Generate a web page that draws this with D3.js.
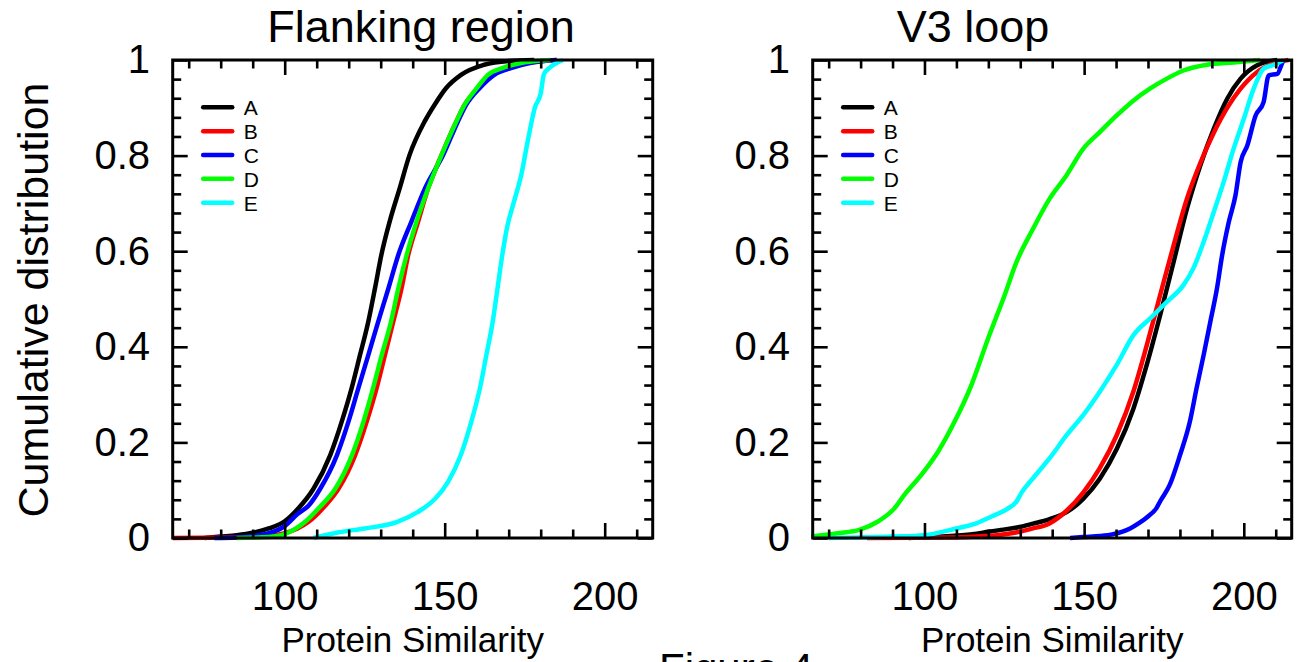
<!DOCTYPE html>
<html><head><meta charset="utf-8">
<script src="https://cdn.jsdelivr.net/npm/d3@7"></script>
<style>
body{margin:0;background:#fff}
svg{display:block}
text{font-family:"Liberation Sans",Arial,Helvetica,sans-serif;fill:#000}
</style>
</head><body>
<svg id="c" width="1301" height="662"></svg>
<script>
// ---------- data ----------
const seriesNames = ["A","B","C","D","E"];
const seriesColors = ["#000000","#ff0000","#0000ff","#00ff00","#00ffff"];
const panelTitles = ["Flanking region","V3 loop"];
const xLabel = "Protein Similarity";
const yLabel = "Cumulative distribution";
const figureLabel = "Figure 4";
const xDomain = [65, 215];
const xMajorTicks = [100,150,200];
const xMinorTicks = [70,80,90,110,120,130,140,160,170,180,190,210];
const yMajorTicks = [0,0.2,0.4,0.6,0.8,1];
const yTickLabels = ["0","0.2","0.4","0.6","0.8","1"];
const yMinorTicks = [0.04,0.08,0.12,0.16,0.24,0.28,0.32,0.36,0.44,0.48,0.52,0.56,0.64,0.68,0.72,0.76,0.84,0.88,0.92,0.96];

// Flanking region (left panel): [similarity, cumulative]
const flankA = [[75,0],[80,0.003],[85,0.006],[90,0.011],[95,0.02],[100,0.035],[104,0.06],[109,0.103],[114.2,0.173],[117.8,0.243],[120.9,0.313],[123.5,0.382],[126.1,0.452],[128.2,0.522],[130.2,0.592],[132.8,0.662],[135.9,0.731],[139,0.801],[143.7,0.871],[146.8,0.906],[150.4,0.941],[155.1,0.969],[162.3,0.99],[170,0.998],[178,1]];
const flankB = [[65,0],[85,0.001],[95,0.004],[100,0.01],[104,0.02],[107.5,0.034],[112.7,0.068],[116.8,0.103],[122,0.173],[125.6,0.243],[128.7,0.313],[131.3,0.382],[133.9,0.452],[136.5,0.522],[138.6,0.592],[141.7,0.662],[144.8,0.731],[149,0.801],[153.6,0.871],[156.2,0.906],[160.4,0.941],[164.5,0.969],[169.7,0.983],[176,0.994],[185,1]];
const flankC = [[78,0],[85,0.001],[90,0.004],[95,0.01],[100,0.025],[104,0.05],[107.5,0.068],[111.1,0.103],[116.3,0.173],[119.9,0.243],[123,0.313],[126.1,0.382],[129.2,0.452],[132.4,0.522],[135.5,0.592],[139.6,0.662],[143.8,0.731],[149.5,0.801],[154.1,0.871],[156.7,0.906],[160.9,0.941],[165.5,0.969],[170.7,0.983],[177,0.994],[185,1]];
const flankD = [[85,0],[95,0.002],[100,0.008],[103,0.018],[106.4,0.034],[111,0.065],[115.8,0.103],[121,0.173],[124.6,0.243],[127.6,0.313],[130.3,0.382],[133.2,0.452],[135.5,0.522],[138.1,0.592],[141.2,0.662],[144.8,0.731],[149,0.801],[153.6,0.871],[156.2,0.906],[160,0.941],[163.5,0.969],[168,0.983],[175,0.995],[183,1]];
const flankE = [[109,0],[117,0.012],[125,0.02],[135,0.033],[141.5,0.054],[147,0.082],[151,0.117],[155,0.173],[158.3,0.243],[161,0.313],[163,0.382],[165,0.452],[166.5,0.522],[168,0.592],[169.5,0.65],[171.5,0.7],[174,0.762],[176,0.832],[178.2,0.901],[180,0.93],[181,0.97],[183,0.985],[184.5,0.992],[187,1]];

// V3 loop (right panel)
const loopA = [[95,0],[105,0.003],[115,0.008],[120,0.013],[124,0.017],[129,0.022],[134,0.03],[139,0.039],[144.5,0.054],[149.7,0.082],[154.9,0.124],[160.2,0.186],[165.4,0.27],[169.6,0.362],[173.8,0.466],[178,0.577],[182.2,0.689],[186.4,0.78],[190.6,0.856],[194.8,0.919],[199,0.961],[204.2,0.989],[210.5,1]];
const loopB = [[82,0],[110,0.001],[119,0.004],[124,0.007],[129,0.012],[134,0.02],[139,0.03],[144.5,0.057],[149.7,0.095],[154.9,0.146],[160.2,0.215],[165.4,0.306],[169.6,0.403],[173.8,0.508],[178,0.612],[182.2,0.71],[186.4,0.785],[190.6,0.848],[194.8,0.9],[199,0.94],[204.2,0.975],[210.5,0.995],[214,1]];
const loopC = [[145.6,0],[149.7,0.002],[155,0.004],[159.1,0.008],[164.4,0.02],[167.4,0.032],[170,0.045],[172.6,0.062],[174,0.079],[176.8,0.111],[180,0.173],[183.1,0.243],[185.2,0.313],[187.4,0.382],[189.5,0.452],[191.6,0.522],[193.2,0.591],[195.3,0.661],[197.4,0.717],[199,0.786],[201.1,0.821],[203.7,0.884],[206.2,0.912],[207.8,0.968],[210.5,0.971],[212.1,0.995],[212.5,1]];
const loopD = [[64.5,0.003],[72.8,0.01],[79.6,0.017],[85.3,0.034],[90.6,0.062],[93.7,0.09],[99,0.132],[104.2,0.18],[109.4,0.243],[114.7,0.32],[119.9,0.417],[125.1,0.508],[128.8,0.577],[134,0.647],[139.2,0.71],[144.5,0.759],[149.7,0.814],[154.9,0.849],[160.2,0.884],[165.4,0.915],[170.6,0.94],[175.9,0.961],[181.1,0.978],[188.4,0.99],[196.8,0.995],[205,1]];
const loopE = [[70,0],[90,0.003],[100,0.006],[110,0.02],[116,0.03],[121,0.045],[126.2,0.062],[128.8,0.076],[130.4,0.095],[134,0.125],[139.2,0.167],[144.5,0.215],[149.7,0.257],[154.9,0.306],[160.2,0.362],[165.4,0.424],[170.6,0.459],[175.9,0.494],[181.1,0.529],[184.2,0.564],[187.4,0.619],[190.6,0.682],[193.7,0.745],[196.8,0.814],[200,0.877],[203.1,0.94],[206.2,0.982],[209.4,0.99],[212.5,1]];

const panelSeries = [
  [flankA, flankB, flankC, flankD, flankE],
  [loopA, loopB, loopC, loopD, loopE]
];

// ---------- layout ----------
const svg = d3.select("#c");
const plotTop = 60, plotBottom = 538;
const panels = [
  {left:172.7, right:652.7, titleX:421},
  {left:812.7, right:1291.7, titleX:973}
];
const FONT = '"Liberation Sans",Arial,Helvetica,sans-serif';

const yScale = d3.scaleLinear().domain([0,1]).range([plotBottom, plotTop]);

panels.forEach((p, pi) => {
  const xScale = d3.scaleLinear().domain(xDomain).range([p.left, p.right]);
  const g = svg.append("g");

  // curves
  const line = d3.line().x(d => xScale(d[0])).y(d => yScale(d[1])).curve(d3.curveMonotoneX);
  panelSeries[pi].forEach((s, si) => {
    g.append("path").datum(s).attr("d", line)
      .attr("fill","none").attr("stroke", seriesColors[si])
      .attr("stroke-width", 4.5).attr("stroke-linejoin","round").attr("stroke-linecap","butt");
  });

  const styleAxis = (sel, fs) => {
    sel.select(".domain").remove();
    sel.attr("font-family", FONT).attr("font-size", fs);
    sel.selectAll(".tick line").attr("stroke","#000").attr("stroke-width", 2.6);
    sel.selectAll(".tick text").attr("fill","#000");
  };

  // bottom axis
  g.append("g").attr("transform",`translate(0,${plotBottom})`)
    .call(d3.axisBottom(xScale).tickValues(xMajorTicks).tickSize(-15).tickPadding(44).tickFormat(d3.format("d")))
    .call(s => styleAxis(s, 40));
  g.append("g").attr("transform",`translate(0,${plotBottom})`)
    .call(d3.axisBottom(xScale).tickValues(xMinorTicks).tickSize(-8.5).tickFormat(""))
    .call(s => styleAxis(s, 40));
  // top axis
  g.append("g").attr("transform",`translate(0,${plotTop})`)
    .call(d3.axisTop(xScale).tickValues(xMajorTicks).tickSize(-15).tickFormat(""))
    .call(s => styleAxis(s, 40));
  g.append("g").attr("transform",`translate(0,${plotTop})`)
    .call(d3.axisTop(xScale).tickValues(xMinorTicks).tickSize(-8.5).tickFormat(""))
    .call(s => styleAxis(s, 40));
  // left axis
  g.append("g").attr("transform",`translate(${p.left},0)`)
    .call(d3.axisLeft(yScale).tickValues(yMajorTicks).tickSize(-15).tickPadding(22.7)
      .tickFormat((d,i) => yTickLabels[i]))
    .call(s => styleAxis(s, 40));
  g.append("g").attr("transform",`translate(${p.left},0)`)
    .call(d3.axisLeft(yScale).tickValues(yMinorTicks).tickSize(-8.5).tickFormat(""))
    .call(s => styleAxis(s, 40));
  // right axis
  g.append("g").attr("transform",`translate(${p.right},0)`)
    .call(d3.axisRight(yScale).tickValues(yMajorTicks).tickSize(-15).tickFormat(""))
    .call(s => styleAxis(s, 40));
  g.append("g").attr("transform",`translate(${p.right},0)`)
    .call(d3.axisRight(yScale).tickValues(yMinorTicks).tickSize(-8.5).tickFormat(""))
    .call(s => styleAxis(s, 40));

  // frame
  g.append("rect").attr("x", p.left).attr("y", plotTop)
    .attr("width", p.right - p.left).attr("height", plotBottom - plotTop)
    .attr("fill","none").attr("stroke","#000").attr("stroke-width",3);

  // legend
  const lg = g.append("g");
  seriesNames.forEach((n, si) => {
    const ly = 107.3 + si * 23.85;
    lg.append("line").attr("x1", p.left + 30.5).attr("x2", p.left + 59.5)
      .attr("y1", ly).attr("y2", ly)
      .attr("stroke", seriesColors[si]).attr("stroke-width", 4.5).attr("stroke-linecap","round");
    lg.append("text").attr("x", p.left + 71).attr("y", ly + 7.8)
      .attr("font-size", 21).text(n);
  });

  // titles & x labels
  g.append("text").attr("x", p.titleX).attr("y", 42).attr("text-anchor","middle")
    .attr("font-size", 45).text(panelTitles[pi]);
  g.append("text").attr("x", (p.left + p.right) / 2).attr("y", 652).attr("text-anchor","middle")
    .attr("font-size", 35).text(xLabel);
});

// y label
svg.append("text").attr("transform","translate(48,300) rotate(-90)")
  .attr("text-anchor","middle").attr("font-size", 43).text(yLabel);

// figure label (cut by bottom edge, as in the source image)
svg.append("text").attr("x", 659).attr("y", 683).attr("font-size", 42).text(figureLabel);
</script>
</body></html>
